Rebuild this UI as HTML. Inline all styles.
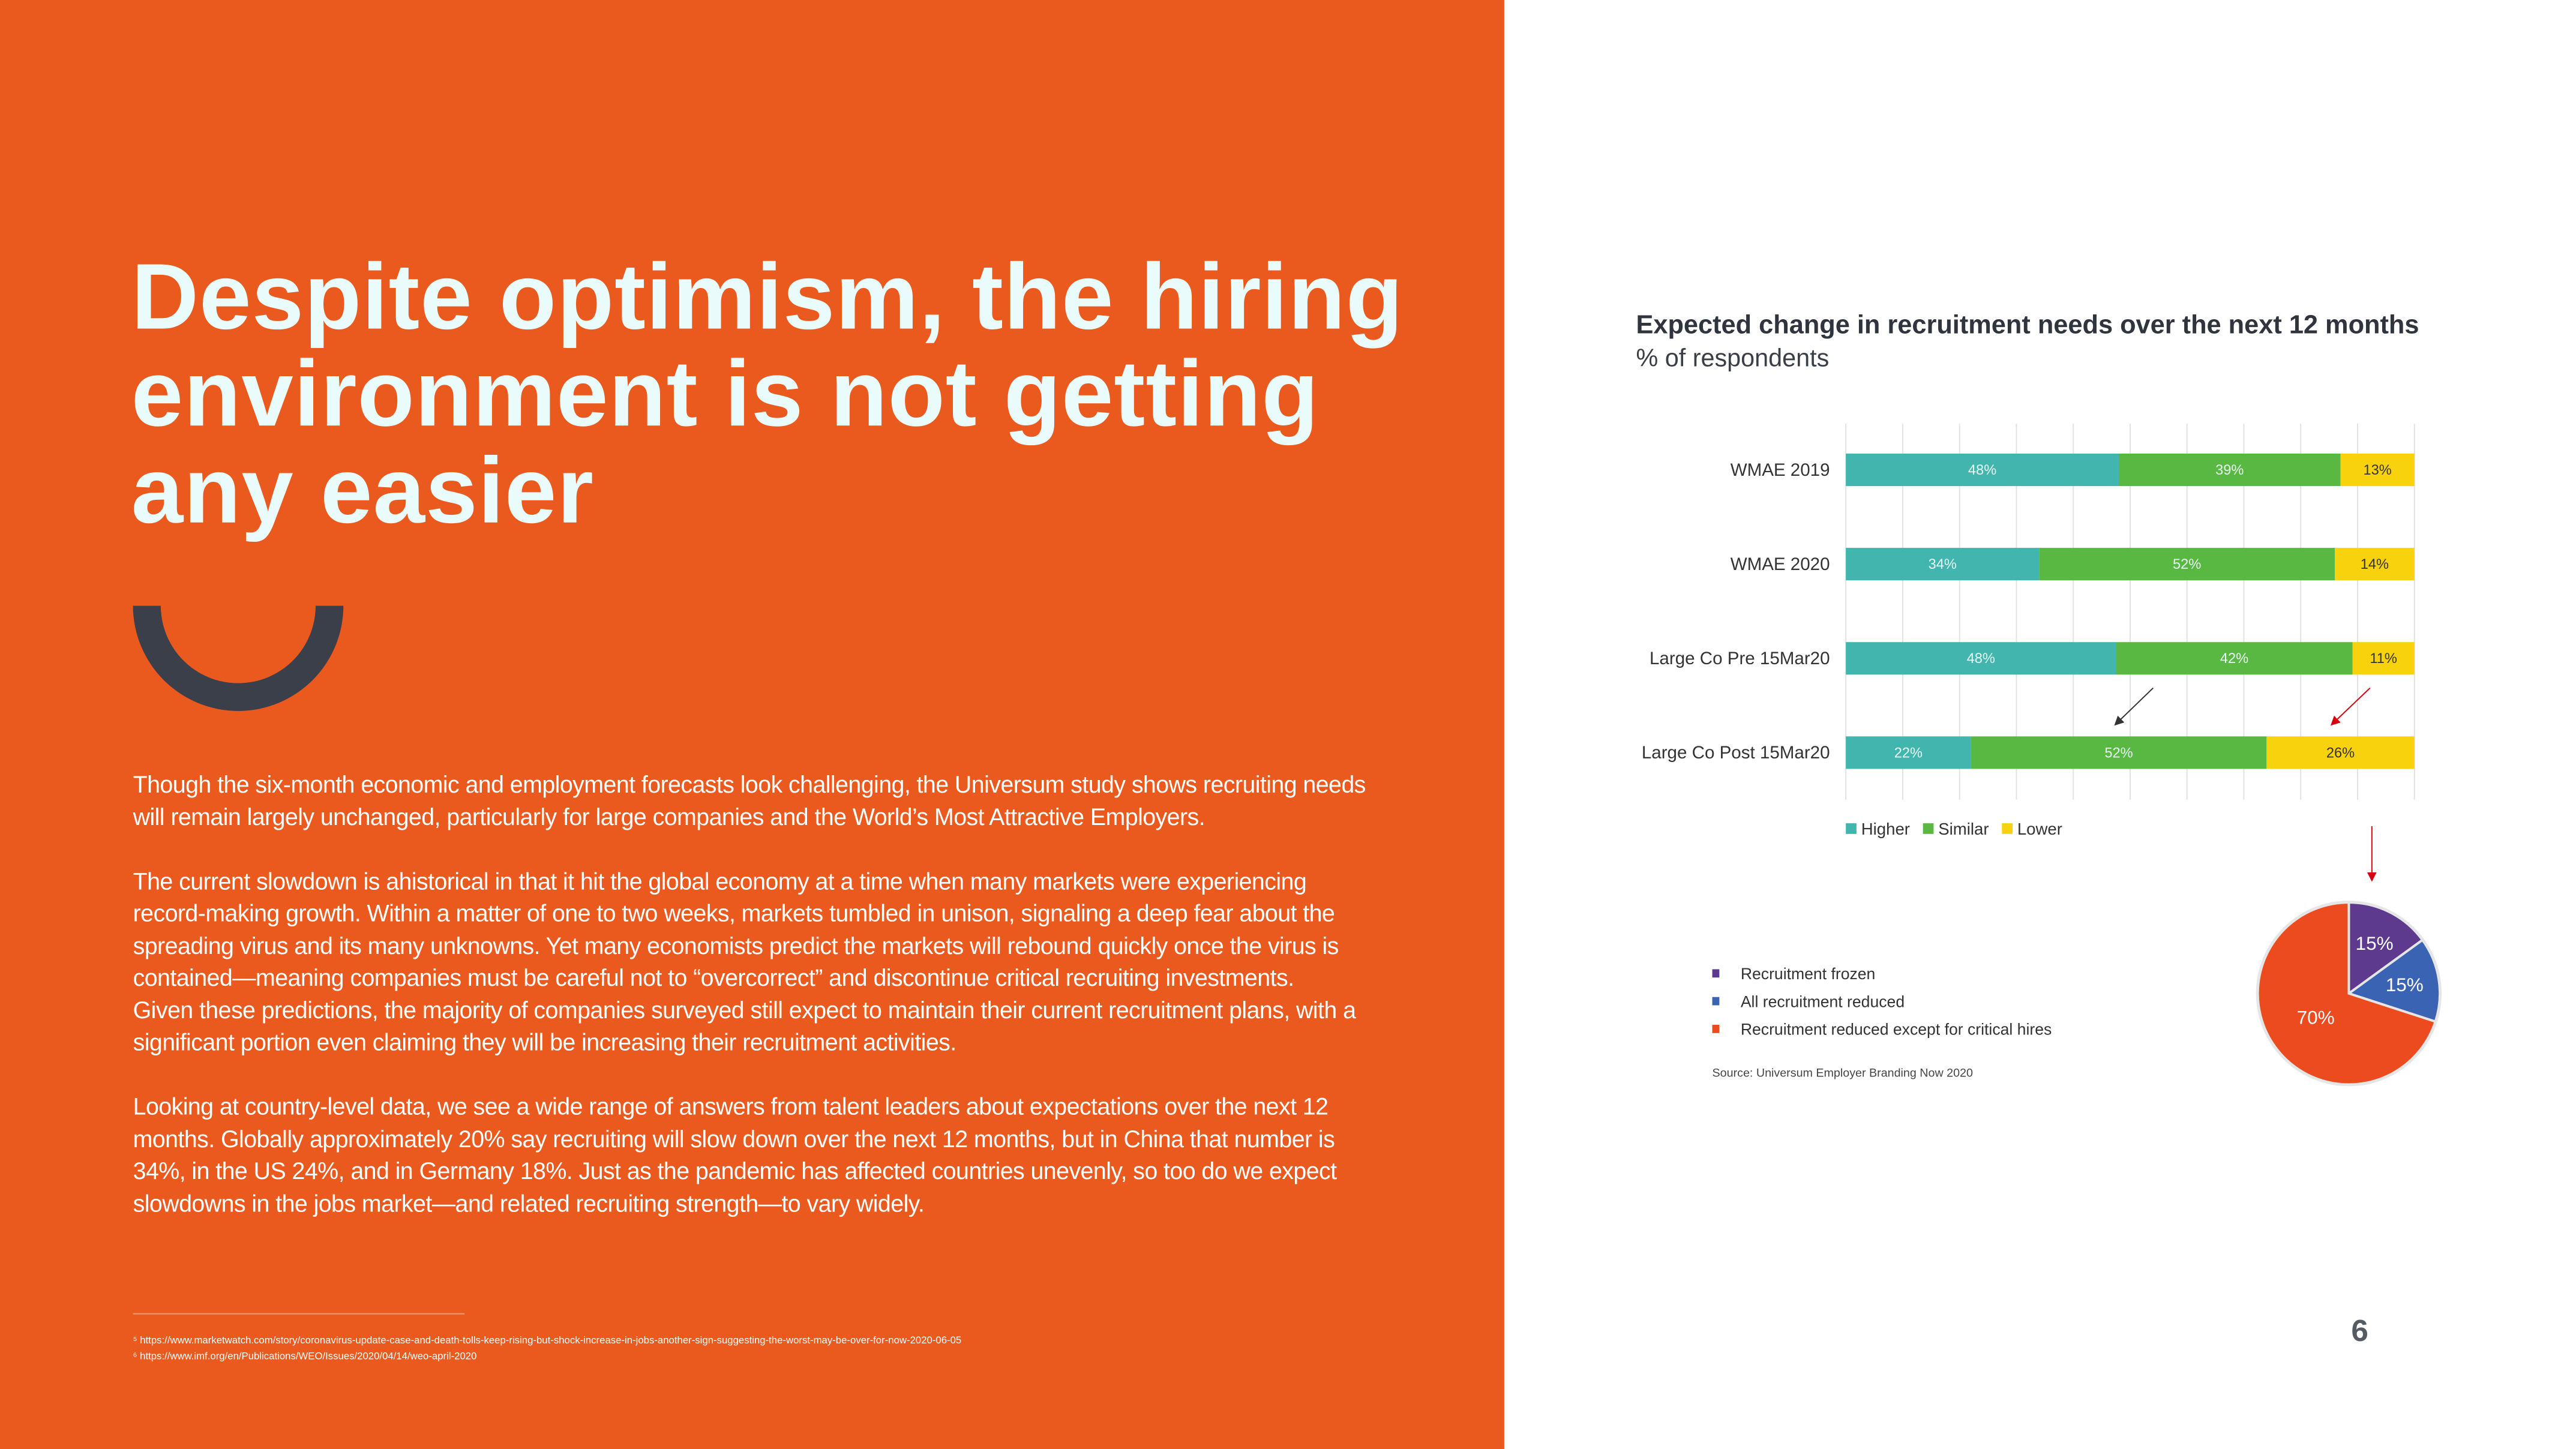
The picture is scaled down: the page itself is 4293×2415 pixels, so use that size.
<!DOCTYPE html>
<html><head><meta charset="utf-8"><style>
html,body{margin:0;padding:0;}
body{width:4293px;height:2415px;position:relative;overflow:hidden;background:#fff;font-family:"Liberation Sans",sans-serif;}
#wrap{position:absolute;left:0;top:0;width:4360px;height:2452px;transform:scale(0.985);transform-origin:0 0;}
#left{position:absolute;left:0;top:0;width:2545px;height:2452px;background:#ea5a1f;}
#title{position:absolute;left:222px;top:420px;color:#e9fbfa;font-weight:bold;font-size:158px;line-height:164px;letter-spacing:1px;white-space:nowrap;}
#body{position:absolute;left:225px;top:1301px;color:#fff;font-size:40px;line-height:54.5px;white-space:nowrap;letter-spacing:-0.6px;}
#fnline{position:absolute;left:225px;top:2222px;width:561px;height:2px;background:#f29a78;}
.fn{position:absolute;left:225px;color:#fff;font-size:17px;white-space:nowrap;}
#pageno{position:absolute;left:3978px;top:2222px;font-size:52px;font-weight:bold;color:#555a63;}
</style></head><body>
<div id="wrap">
<div id="left"></div>
<div id="title">Despite optimism, the hiring<br>environment is not getting<br>any easier</div>
<svg style="position:absolute;left:0;top:0" width="2545" height="1300">
<path d="M225 1025 A178 178 0 0 0 581 1025 L534 1025 A131 131 0 0 1 272 1025 Z" fill="#3a3f4a"/>
</svg>
<div id="body">Though the six-month economic and employment forecasts look challenging, the Universum study shows recruiting needs<br>will remain largely unchanged, particularly for large companies and the World’s Most Attractive Employers.<br><br>The current slowdown is ahistorical in that it hit the global economy at a time when many markets were experiencing<br>record-making growth. Within a matter of one to two weeks, markets tumbled in unison, signaling a deep fear about the<br>spreading virus and its many unknowns. Yet many economists predict the markets will rebound quickly once the virus is<br>contained—meaning companies must be careful not to “overcorrect” and discontinue critical recruiting investments.<br>Given these predictions, the majority of companies surveyed still expect to maintain their current recruitment plans, with a<br>significant portion even claiming they will be increasing their recruitment activities.<br><br>Looking at country-level data, we see a wide range of answers from talent leaders about expectations over the next 12<br>months. Globally approximately 20% say recruiting will slow down over the next 12 months, but in China that number is<br>34%, in the US 24%, and in Germany 18%. Just as the pandemic has affected countries unevenly, so too do we expect<br>slowdowns in the jobs market—and related recruiting strength—to vary widely.</div>
<div id="fnline"></div>
<div class="fn" style="top:2258px">⁵ https://www.marketwatch.com/story/coronavirus-update-case-and-death-tolls-keep-rising-but-shock-increase-in-jobs-another-sign-suggesting-the-worst-may-be-over-for-now-2020-06-05</div>
<div class="fn" style="top:2285px">⁶ https://www.imf.org/en/Publications/WEO/Issues/2020/04/14/weo-april-2020</div>
<div id="pageno">6</div>

<svg id="chart" style="position:absolute;left:0;top:0" width="4360" height="2452"></svg>
</div>
<script>
const categories=["WMAE 2019","WMAE 2020","Large Co Pre 15Mar20","Large Co Post 15Mar20"];
const higher=[48,34,48,22];
const similar=[39,52,42,52];
const lower=[13,14,11,26];
const seriesNames=["Higher","Similar","Lower"];
const pieLabels=["Recruitment frozen","All recruitment reduced","Recruitment reduced except for critical hires"];
const pieValues=[15,15,70];

const NS="http://www.w3.org/2000/svg";
const svg=document.getElementById('chart');
function mk(t,a,p){const e=document.createElementNS(NS,t);for(const k in a)e.setAttribute(k,a[k]);(p||svg).appendChild(e);return e;}
const colors=["#42b6ae","#58b841","#f8d20c"];
const pieColors=["#5e3a8e","#3b63b4","#ec4b1f"];
const x0=3123,x1=4085,gTop=717,gBot=1353;
const xs=v=>x0+(x1-x0)*v/100;
const yc=i=>795+i*159.5;
const barH=55;

let t=mk('text',{x:2768,y:564,'font-size':44,'font-weight':'bold',fill:'#2f343d'});t.textContent="Expected change in recruitment needs over the next 12 months";


t=mk('text',{x:2768,y:620,'font-size':42,fill:'#3a3f47'});t.textContent="% of respondents";



for(let g=0;g<=100;g+=10){const l=mk('line',{x1:xs(g),x2:xs(g),y1:gTop,y2:gBot,stroke:'#e2e2e2','stroke-width':2});

}

const series=[higher,similar,lower];
categories.forEach((c,i)=>{
  const lab=mk('text',{x:3096,y:yc(i)+10,'font-size':30,'text-anchor':'end',fill:'#333'});lab.textContent=c;
  
  
  const tot=higher[i]+similar[i]+lower[i];
  let acc=0;
  series.forEach((s,k)=>{
    const v=s[i]*100/tot;
    const r=mk('rect',{x:xs(acc),y:yc(i)-barH/2,width:xs(acc+v)-xs(acc),height:barH,fill:colors[k]});
    
    
    const tx=mk('text',{x:(xs(acc)+xs(acc+v))/2,y:yc(i)+8,'font-size':24,'text-anchor':'middle',fill:k==2?'#333':'#e8f8f5'});tx.textContent=s[i]+'%';
    
    
    acc+=v;
  });
});

const defs=mk('defs',{});
['blk','red'].forEach((id,j)=>{const m=mk('marker',{id:id,markerWidth:8,markerHeight:8,refX:6,refY:4,orient:'auto'},defs);mk('path',{d:'M0,0 L8,4 L0,8 Z',fill:j?'#d6000f':'#333'},m);});
let a=mk('line',{x1:3643,y1:1164,x2:3580,y2:1225,stroke:'#333','stroke-width':2,'marker-end':'url(#blk)'});


a=mk('line',{x1:4010,y1:1164,x2:3946,y2:1225,stroke:'#d6000f','stroke-width':2,'marker-end':'url(#red)'});


a=mk('line',{x1:4013,y1:1398,x2:4013,y2:1488,stroke:'#d6000f','stroke-width':2,'marker-end':'url(#red)'});



let lx=3123;
seriesNames.forEach((n,k)=>{
  const r=mk('rect',{x:lx,y:1393,width:18,height:18,fill:colors[k]});
  
  
  const tx=mk('text',{x:lx+26,y:1412,'font-size':28,fill:'#333'});tx.textContent=n;
  
  
  lx+=26+tx.getComputedTextLength()+22;
});

const cx=3974,cy=1681,R=154;
const ptot=pieValues.reduce((p,q)=>p+q,0);
let ang=-Math.PI/2;
mk('circle',{cx:cx,cy:cy,r:R+3,fill:'#e6e6e6'});
pieValues.forEach((v,k)=>{
  const a2=ang+2*Math.PI*v/ptot;
  const large=(a2-ang)>Math.PI?1:0;
  const p=mk('path',{d:`M${cx},${cy} L${cx+R*Math.cos(ang)},${cy+R*Math.sin(ang)} A${R},${R} 0 ${large} 1 ${cx+R*Math.cos(a2)},${cy+R*Math.sin(a2)} Z`,fill:pieColors[k],stroke:'#e6e6e6','stroke-width':4});
  
  
  const mid=(ang+a2)/2;const rr=k==2?0.45:0.62;
  const tx=mk('text',{x:cx+R*rr*Math.cos(mid),y:cy+R*rr*Math.sin(mid)+11,'font-size':32,'text-anchor':'middle',fill:'#fff'});tx.textContent=v+'%';
  
  
  ang=a2;
});
pieLabels.forEach((n,k)=>{
  const r=mk('rect',{x:2897,y:1640+k*47,width:12,height:14,fill:pieColors[k]});
  
  
  const tx=mk('text',{x:2945,y:1657+k*47,'font-size':27,fill:'#333'});tx.textContent=n;
  
  
});
t=mk('text',{x:2897,y:1822,'font-size':20,fill:'#444'});t.textContent="Source: Universum Employer Branding Now 2020";


</script>
</body></html>
